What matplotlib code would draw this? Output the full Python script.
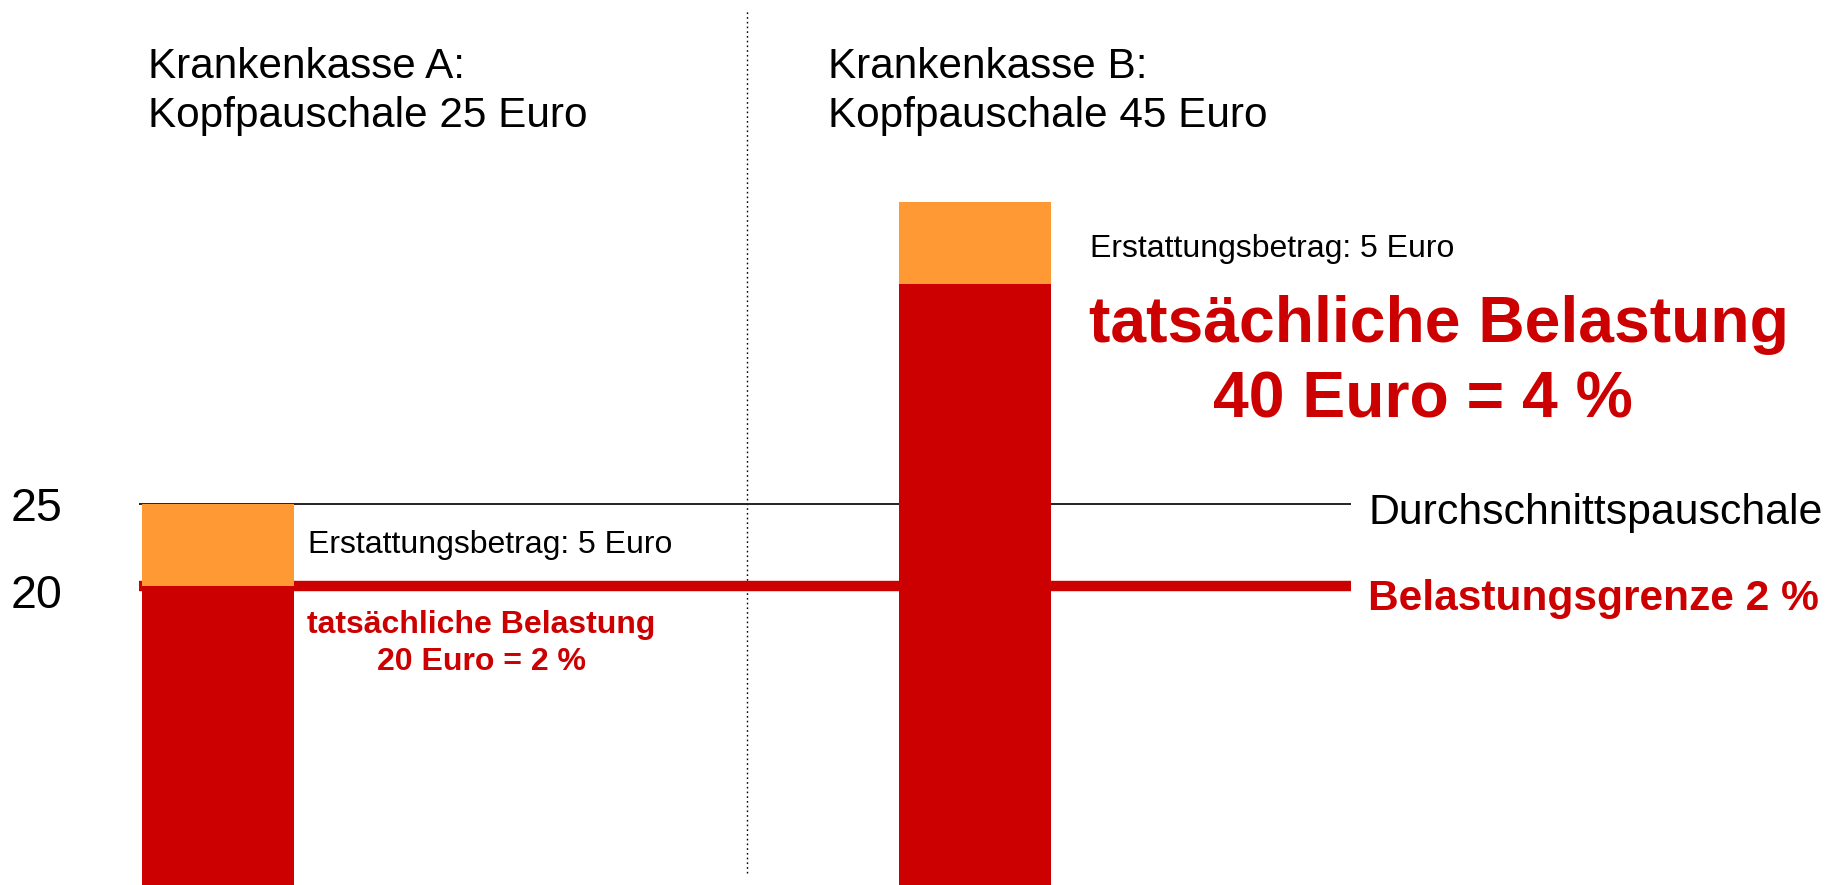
import matplotlib
matplotlib.use("Agg")
import matplotlib.pyplot as plt

plt.rcParams['font.family'] = ['Liberation Sans', 'DejaVu Sans']

# Daten (Euro)
kassen = ['A', 'B']
kopfpauschale = [25, 45]
belastung = [20, 38.4]
erstattung = [5, 5]         # orangener Teil
durchschnitt = 25
grenze = 20
ticks = [25, 20]

RED = '#CC0000'
ORANGE = '#FF9933'

W, H = 1836, 885
fig = plt.figure(figsize=(W / 100, H / 100), dpi=100)
ax = fig.add_axes([0, 0, 1, 1])
ax.set_xlim(0, W)
ax.set_ylim(1.77, 55.73)
ax.axis('off')


def fx(x):
    return x / W


def fy(y):
    return 1 - y / H


# Balken
bar_x = [218, 975]
ax.bar(bar_x, belastung, width=152, color=RED, zorder=3)
ax.bar(bar_x, erstattung, bottom=belastung, width=152, color=ORANGE, zorder=3)

# Linien
ax.hlines(durchschnitt, 139, 1351, color='#222222', lw=1.4, zorder=2)
ax.hlines(grenze, 139, 1351, color=RED, lw=7.5, zorder=2)
ax.axvline(747, ymin=fy(873), ymax=fy(10), color='black', lw=1,
           ls=(0, (1.2, 2.2)), zorder=1)

# Achsenbeschriftung links
tick_baseline = [521, 608]
for t, yb in zip(ticks, tick_baseline):
    fig.text(fx(11), fy(yb), str(t), fontsize=33.5, va='baseline', ha='left')

# Überschriften
titel_x = [148, 828]
for k, p, x in zip(kassen, kopfpauschale, titel_x):
    fig.text(fx(x), fy(78), f'Krankenkasse {k}:', fontsize=30.4, va='baseline')
    fig.text(fx(x), fy(127), f'Kopfpauschale {p} Euro', fontsize=30.4, va='baseline')

# Kasse A
fig.text(fx(308), fy(553), f'Erstattungsbetrag: {erstattung[0]} Euro',
         fontsize=23, va='baseline')
fig.text(fx(307), fy(633), 'tatsächliche Belastung', fontsize=23,
         fontweight='bold', color=RED, va='baseline')
fig.text(fx(482), fy(670), '20 Euro = 2 %', fontsize=23,
         fontweight='bold', color=RED, va='baseline', ha='center')

# Kasse B
fig.text(fx(1090), fy(257), f'Erstattungsbetrag: {erstattung[1]} Euro',
         fontsize=23, va='baseline')
fig.text(fx(1089), fy(342), 'tatsächliche Belastung', fontsize=46.3,
         fontweight='bold', color=RED, va='baseline')
fig.text(fx(1423), fy(417), '40 Euro = 4 %', fontsize=46.3,
         fontweight='bold', color=RED, va='baseline', ha='center')

# Legende rechts
fig.text(fx(1368), fy(524), 'Durchschnittspauschale', fontsize=30.8, va='baseline')
fig.text(fx(1368), fy(610), 'Belastungsgrenze 2 %', fontsize=30.6,
         fontweight='bold', color=RED, va='baseline')

fig.savefig('out.png', dpi=100, facecolor='white')
